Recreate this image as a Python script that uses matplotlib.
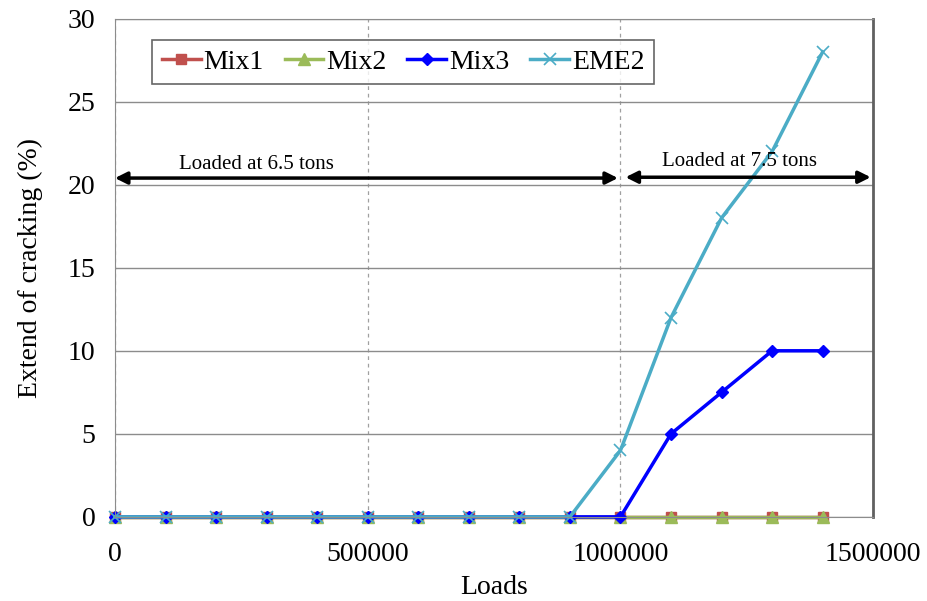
import matplotlib
matplotlib.use("Agg")
import matplotlib.pyplot as plt

# Data
loads = [0, 100000, 200000, 300000, 400000, 500000, 600000, 700000,
         800000, 900000, 1000000, 1100000, 1200000, 1300000, 1400000]
mix1 = [0, 0, 0, 0, 0, 0, 0, 0, 0, 0, 0, 0, 0, 0, 0]
mix2 = [0, 0, 0, 0, 0, 0, 0, 0, 0, 0, 0, 0, 0, 0, 0]
mix3 = [0, 0, 0, 0, 0, 0, 0, 0, 0, 0, 0, 5, 7.5, 10, 10]
eme2 = [0, 0, 0, 0, 0, 0, 0, 0, 0, 0, 4, 12, 18, 22, 28]

x_ticks = [0, 500000, 1000000, 1500000]
y_ticks = [0, 5, 10, 15, 20, 25, 30]

plt.rcParams['font.family'] = ['Liberation Serif', 'DejaVu Serif']

fig = plt.figure(figsize=(9.27, 6.01), dpi=100)
ax = fig.add_axes([0.124, 0.14, 0.818, 0.829])

ax.plot(loads, mix1, color='#C0504D', marker='s', markersize=7, lw=2.5, label='Mix1', clip_on=False)
ax.plot(loads, mix2, color='#9BBB59', marker='^', markersize=8, lw=2.5, label='Mix2', clip_on=False)
ax.plot(loads, mix3, color='#0000FF', marker='D', markersize=6, lw=2.5, label='Mix3', clip_on=False)
ax.plot(loads, eme2, color='#4BACC6', marker='x', markersize=9, mew=1.2, lw=2.5, label='EME2', clip_on=False)

ax.set_xlim(0, 1500000)
ax.set_ylim(0, 30)
ax.set_xticks(x_ticks)
ax.set_yticks(y_ticks)
ax.set_xticklabels([str(v) for v in x_ticks])
ax.tick_params(axis='both', length=0, labelsize=20)
ax.tick_params(axis='x', pad=18)
ax.tick_params(axis='y', pad=14)

ax.yaxis.grid(True, color='#8c8c8c', lw=1, ls='-')
ax.xaxis.grid(True, color='#a0a0a0', lw=0.9, ls=(0, (3, 3)))
ax.set_axisbelow(True)
for side in ['left', 'bottom', 'top']:
    ax.spines[side].set_color('#8c8c8c')
ax.spines['right'].set_color('#606060')
ax.spines['right'].set_linewidth(2)

ax.set_xlabel('Loads', fontsize=20, labelpad=6)
ax.set_ylabel('Extend of cracking (%)', fontsize=20, labelpad=18)

# Loading regime arrows
arrow = dict(arrowstyle='<|-|>', color='black', lw=2.5, mutation_scale=18, shrinkA=0, shrinkB=0)
ax.annotate('', xy=(0, 20.4), xytext=(995000, 20.4), arrowprops=arrow)
ax.annotate('', xy=(1010000, 20.45), xytext=(1495000, 20.45), arrowprops=arrow)
ax.text(280000, 21.2, 'Loaded at 6.5 tons', fontsize=15, ha='center', va='center')
ax.text(1235000, 21.4, 'Loaded at 7.5 tons', fontsize=15, ha='center', va='center')

leg = ax.legend(loc='upper left', bbox_to_anchor=(0.049, 0.958), borderaxespad=0, ncol=4,
                fontsize=20, frameon=True, fancybox=False, edgecolor='#404040',
                handlelength=1.4, handletextpad=0.1, columnspacing=0.75, borderpad=0.35)
leg.get_frame().set_linewidth(1.2)

fig.savefig('out.png', dpi=100)
